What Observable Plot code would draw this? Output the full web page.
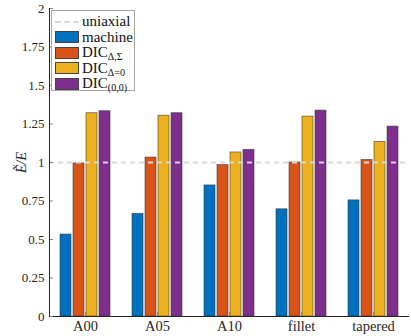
<!DOCTYPE html>
<html>
<head>
<meta charset="utf-8">
<script src="https://cdn.jsdelivr.net/npm/d3@7"></script>
<script src="https://cdn.jsdelivr.net/npm/@observablehq/plot@0.6"></script>
<style>
  body { margin: 0; background: #fff; }
  #wrap { position: relative; width: 411px; height: 336px; font-family: "Liberation Serif", "Times New Roman", Times, "DejaVu Serif", serif; }
  #wrap svg { position: absolute; left: 0; top: 0; }
  #wrap svg text { font-family: "Liberation Serif", "Times New Roman", Times, "DejaVu Serif", serif; }
  g[aria-label="fx-axis tick label"] text { font-size: 14.5px; }
  g[aria-label="y-axis label"] text { font-style: italic; font-size: 14px; }
  #legend { position: absolute; left: 51px; top: 10px; width: 84px; height: 81px; border: 1px solid #a6a6a6; background: #fff; box-sizing: border-box; font-size: 15px; color: #111; }
  .row { position: absolute; left: 3px; height: 15px; display: flex; align-items: center; white-space: nowrap; }
  .sw { width: 24px; height: 12px; border: 1px solid #444; box-sizing: border-box; margin-right: 3px; flex: none; }
  .dash { width: 24px; height: 0; border-top: 2px dashed #d9d9d9; margin-right: 3px; flex: none; }
  sub { font-size: 10px; vertical-align: -3px; line-height: 0; }
</style>
</head>
<body>
<div id="wrap"></div>
<script>
const groups = ["A00", "A05", "A10", "fillet", "tapered"];
const seriesKeys = ["machine", "DIC_DS", "DIC_D0", "DIC_00"];
const seriesLabels = ["machine", "DIC<sub>Δ,Σ</sub>", "DIC<sub>Δ=0</sub>", "DIC<sub>(0,0)</sub>"];
const colors = ["#0072BD", "#D95319", "#EDB120", "#7E2F8E"];
const machine = [0.532, 0.666, 0.851, 0.696, 0.754];
const dicDS = [0.994, 1.032, 0.983, 1.000, 1.016];
const dicD0 = [1.320, 1.304, 1.065, 1.298, 1.134];
const dic00 = [1.333, 1.320, 1.082, 1.337, 1.233];
const uniaxial = 1;
const yTicks = [0, 0.25, 0.5, 0.75, 1, 1.25, 1.5, 1.75, 2];

const seriesValues = [machine, dicDS, dicD0, dic00];
const data = [];
groups.forEach((g, gi) => seriesKeys.forEach((s, si) => data.push({group: g, series: s, value: seriesValues[si][gi]})));

const serif = "'Liberation Serif', 'Times New Roman', Times, 'DejaVu Serif', serif";
const chart = Plot.plot({
  width: 411,
  height: 336,
  marginLeft: 47,
  marginRight: 1,
  marginTop: 8,
  marginBottom: 20,
  style: {fontFamily: serif, fontSize: "13px", color: "#262626", background: "transparent"},
  fx: {domain: groups, padding: 0, label: null},
  x: {domain: seriesKeys, paddingInner: 0.175, paddingOuter: 0.81, axis: null},
  y: {domain: [0, 2], axis: null},
  color: {domain: seriesKeys, range: colors},
  marks: [
    Plot.barY(data, {fx: "group", x: "series", y: "value", fill: "series", stroke: "#333", strokeOpacity: 0.7, strokeWidth: 0.8}),
    Plot.ruleY([uniaxial], {stroke: "#d9d9d9", strokeWidth: 2, strokeDasharray: "5,4"}),
    Plot.ruleY([0], {stroke: "#262626", strokeWidth: 1}),
    Plot.axisFx({anchor: "bottom", tickSize: -4, tickPadding: 8, stroke: "#888", fill: "#262626", label: null}),
    Plot.axisY({ticks: yTicks, tickFormat: d => String(d), tickSize: -4, tickPadding: 9, stroke: "#888", fill: "#262626", label: "Ẽ/E", labelAnchor: "center", labelOffset: 33, labelArrow: "none"}),
    Plot.frame({anchor: "left", stroke: "#262626", facetAnchor: "left"})
  ]
});
const wrap = document.getElementById("wrap");
wrap.appendChild(chart);

const legend = document.createElement("div");
legend.id = "legend";
const rows = [{type: "dash", label: "uniaxial"}].concat(seriesLabels.map((l, i) => ({type: "sw", label: l, color: colors[i]})));
rows.forEach((r, i) => {
  const row = document.createElement("div");
  row.className = "row";
  row.style.top = (3 + i * 15.6) + "px";
  const m = document.createElement("div");
  m.className = r.type;
  if (r.color) m.style.background = r.color;
  row.appendChild(m);
  const t = document.createElement("span");
  t.innerHTML = r.label;
  row.appendChild(t);
  legend.appendChild(row);
});
wrap.appendChild(legend);
</script>
</body>
</html>
